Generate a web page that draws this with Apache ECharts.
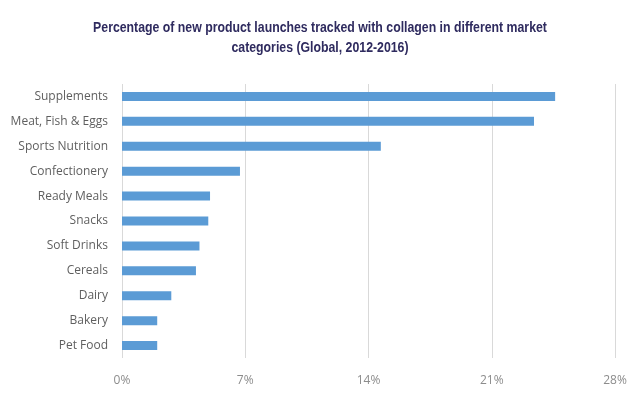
<!DOCTYPE html>
<html>
<head>
<meta charset="utf-8">
<script src="https://cdn.jsdelivr.net/npm/echarts@6/dist/echarts.min.js"></script>
<style>html,body{margin:0;padding:0;background:#fff;}#c{width:640px;height:394px;}</style>
</head>
<body>
<div id="c"></div>
<script>
const categories = ["Supplements","Meat, Fish & Eggs","Sports Nutrition","Confectionery","Ready Meals","Snacks","Soft Drinks","Cereals","Dairy","Bakery","Pet Food"];
const values = [24.6, 23.4, 14.7, 6.7, 5.0, 4.9, 4.4, 4.2, 2.8, 2.0, 2.0];
const xTicks = [0, 7, 14, 21, 28];
const titleText = "Percentage of new product launches tracked with collagen in different market\ncategories (Global, 2012-2016)";

const chart = echarts.init(document.getElementById('c'), null, {renderer:'canvas'});
chart.setOption({
  animation: false,
  backgroundColor: '#fff',
  graphic: [{
    type: 'text',
    x: 320,
    y: 18,
    scaleX: 0.82,
    originX: 0,
    style: {
      text: titleText,
      align: 'center',
      verticalAlign: 'top',
      font: 'bold 15px "Liberation Sans", sans-serif',
      lineHeight: 20,
      fill: '#2f2b5f'
    }
  }],
  grid: { left: 122, right: 25, top: 84, bottom: 36, containLabel: false },
  xAxis: {
    type: 'value',
    min: xTicks[0],
    max: xTicks[xTicks.length-1],
    interval: 7,
    axisLine: { show: false },
    axisTick: { show: false },
    splitLine: { show: true, lineStyle: { color: '#d9d9d9', width: 1 } },
    axisLabel: {
      formatter: v => v + '%',
      color: '#8c8c8c',
      fontFamily: '"Open Sans", sans-serif',
      fontSize: 12,
      margin: 17
    }
  },
  yAxis: {
    type: 'category',
    data: categories,
    inverse: true,
    axisLine: { show: false },
    axisTick: { show: false },
    axisLabel: {
      color: '#5f5f5f',
      fontFamily: '"Open Sans", sans-serif',
      fontSize: 12,
      margin: 14
    }
  },
  series: [{
    type: 'bar',
    data: values,
    barWidth: 9,
    itemStyle: { color: '#5b9bd5' }
  }]
});
</script>
</body>
</html>
